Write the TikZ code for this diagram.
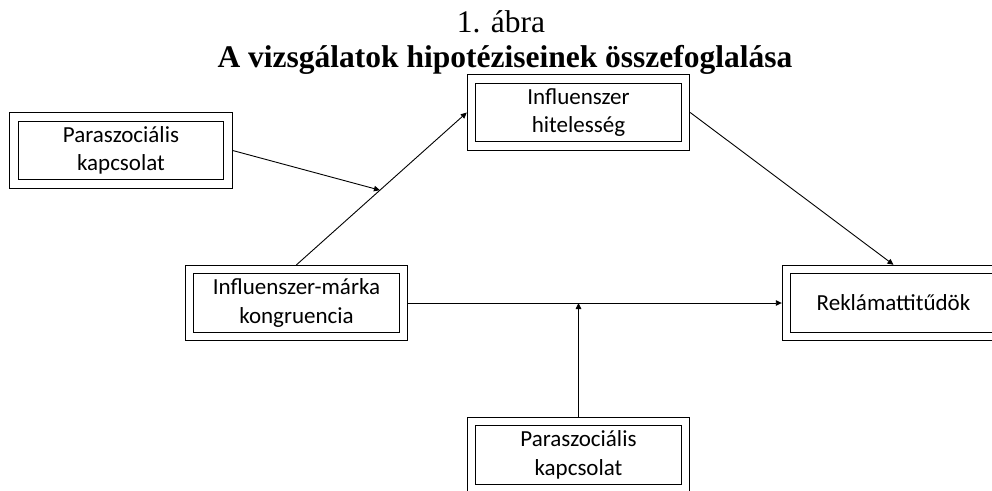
\documentclass[tikz,border=0pt]{standalone}
\usepackage{fontspec}
\setmainfont{Liberation Serif}
\newfontfamily\boxfont{Carlito}
\usetikzlibrary{arrows.meta}
\begin{document}
\begin{tikzpicture}[x=1pt,y=-1pt,
  dbox/.style={draw, double, double distance=7.3pt, line width=1pt,
    minimum width=214pt, minimum height=67pt, inner sep=0pt, outer sep=4.7pt,
    align=center, font=\boxfont\fontsize{23}{28.5}\selectfont},
  arr/.style={line width=0.9pt, -{Triangle[length=6pt,width=5.5pt]}},
  ttl/.style={font=\fontsize{31.5}{35}\selectfont, inner sep=0pt, anchor=base}]
\useasboundingbox (0,0) rectangle (992,490);
\clip (0,0) rectangle (992,490);
\node[ttl] (t1) at (501,32) {1. ábra};
\node[ttl, font=\bfseries\fontsize{31.5}{35}\selectfont] (t2) at (505,67) {A vizsgálatok hipotéziseinek összefoglalása};
\node[dbox] (psi1) at (121,150.5) {Paraszociális\\kapcsolat};
\node[dbox] (ih) at (578.5,112.5) {Influenszer\\hitelesség};
\node[dbox] (imk) at (296.5,303) {Influenszer-márka\\kongruencia};
\node[dbox] (ra) at (893.5,303) {Reklámattitűdök};
\node[dbox] (psi2) at (578.5,455) {Paraszociális\\kapcsolat};
\draw[arr] (imk.north) -- (ih.west) coordinate[pos=0.49] (m1);
\draw[arr] (psi1.east) -- (m1);
\draw[arr] (ih.east) -- (ra.north);
\draw[arr] (imk.east) -- (ra.west);
\coordinate (m2) at (psi2.north |- imk.east);
\draw[arr] (psi2.north) -- (m2);
\end{tikzpicture}
\end{document}
